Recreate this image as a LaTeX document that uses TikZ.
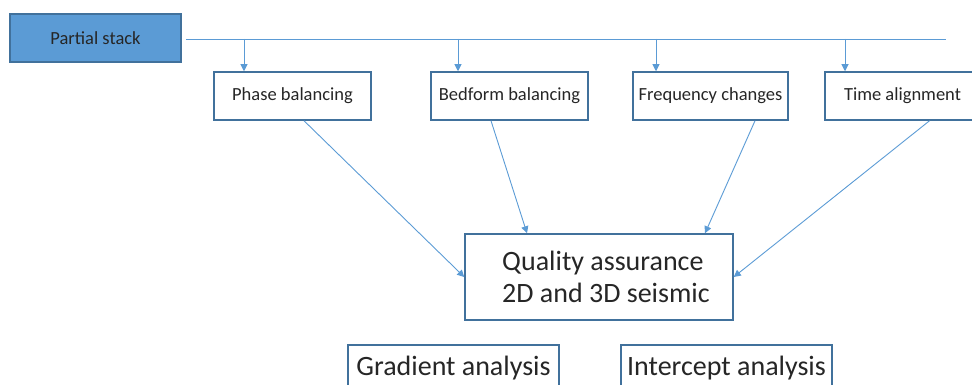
\documentclass[tikz,border=0pt]{standalone}
\usepackage{xcolor}
\usepackage{fontspec}
\setmainfont{Carlito}
\usetikzlibrary{arrows.meta}

\definecolor{lienbleu}{HTML}{5B9BD5}
\definecolor{bordbleu}{HTML}{41719C}
\definecolor{texte}{HTML}{262626}

\begin{document}
\begin{tikzpicture}[x=1pt,y=-1pt,
    boite/.style={draw=bordbleu,line width=1.5pt,fill=white,text=texte,
      inner sep=0pt,font=\fontsize{18.5}{22}\selectfont},
    petite/.style={boite,minimum height=48pt},
    grande/.style={boite,font=\fontsize{28}{32}\selectfont},
    lien/.style={draw=lienbleu,line width=0.9pt},
    fleche/.style={lien,-{Triangle[width=7pt,length=7pt]}}]
    \clip (0,0) rectangle (972,385);
    % le bloc de depart
    \node[boite,fill=lienbleu,minimum width=171pt,minimum height=48pt] (stack) at (95.5,38) {Partial stack};
    % les quatre traitements
    \node[petite,minimum width=157pt] (phase) at (292.5,96) {Phase balancing};
    \node[petite,minimum width=157pt] (bedform) at (509.5,96) {Bedform balancing};
    \node[petite,minimum width=155pt] (freq) at (710.5,96) {Frequency changes};
    \node[petite,minimum width=155pt] (time) at (902.5,96) {Time alignment};
    % controle qualite (texte un peu a droite)
    \node[grande,align=left,minimum width=268pt,minimum height=86pt] (qa) at (599,277)
      {\hspace*{14pt}Quality assurance\\\hspace*{14pt}2D and 3D seismic};
    \node[grande,minimum width=211pt,minimum height=46pt] (grad) at (453.5,368) {Gradient analysis};
    \node[grande,minimum width=211pt,minimum height=46pt] (inter) at (726.5,368) {Intercept analysis};
    % la ligne de distribution
    \coordinate (trA) at (186,39);
    \coordinate (trB) at (946,39);
    \coordinate (b1) at (244,39);
    \coordinate (b2) at (458,39);
    \coordinate (b3) at (656,39);
    \coordinate (b4) at (845,39);
    \draw[lien] (trA) -- (trB);
    \draw[fleche] (b1) -- (b1 |- phase.north);
    \draw[fleche] (b2) -- (b2 |- bedform.north);
    \draw[fleche] (b3) -- (b3 |- freq.north);
    \draw[fleche] (b4) -- (b4 |- time.north);
    % vers le controle qualite
    \draw[fleche] ([xshift=11.5pt]phase.south) -- (qa.west);
    \draw[fleche] ([xshift=-18.5pt]bedform.south) -- ([xshift=-72pt]qa.north);
    \draw[fleche] ([xshift=44.5pt]freq.south) -- ([xshift=106pt]qa.north);
    \draw[fleche] ([xshift=27pt]time.south) -- (qa.east);
\end{tikzpicture}
\end{document}
